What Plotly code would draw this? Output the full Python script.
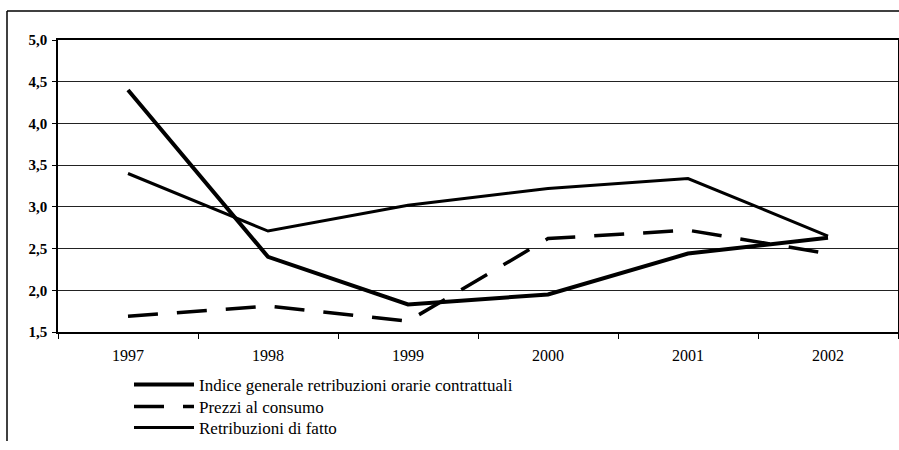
import plotly.graph_objects as go

years = ["1997", "1998", "1999", "2000", "2001", "2002"]
indice = [4.40, 2.40, 1.83, 1.95, 2.44, 2.63]
prezzi = [1.69, 1.81, 1.63, 2.62, 2.72, 2.44]
retribuzioni = [3.40, 2.71, 3.02, 3.22, 3.34, 2.65]
names = ["Indice generale retribuzioni orarie contrattuali",
         "Prezzi al consumo",
         "Retribuzioni di fatto"]
y_ticks = [1.5, 2.0, 2.5, 3.0, 3.5, 4.0, 4.5, 5.0]

SERIF = "Liberation Serif"

fig = go.Figure()
fig.add_trace(go.Scatter(x=years, y=indice, mode="lines", name=names[0],
                         legend="legend",
                         line=dict(color="black", width=4)))
fig.add_trace(go.Scatter(x=years, y=prezzi, mode="lines", name=names[1],
                         legend="legend2",
                         line=dict(color="black", width=3.5, dash="30px,19px")))
fig.add_trace(go.Scatter(x=years, y=retribuzioni, mode="lines", name=names[2],
                         legend="legend3",
                         line=dict(color="black", width=3)))

W, H = 899, 450
L, R, T, B = 58, 1, 40, 118
pw = W - L - R
ph = H - T - B

def px(x):
    return (x - L) / pw

def py(y):
    return (H - B - y) / ph

def leg(ycenter):
    return dict(x=px(129), y=py(ycenter), xanchor="left", yanchor="middle",
                font=dict(family=SERIF, size=17, color="black"),
                itemwidth=60, bgcolor="rgba(0,0,0,0)", borderwidth=0)

fig.update_layout(
    width=W, height=H,
    margin=dict(l=L, r=R, t=T, b=B, pad=0, autoexpand=False),
    paper_bgcolor="white", plot_bgcolor="white",
    separators=",.",
    font=dict(family=SERIF, color="black", size=13),
    showlegend=True,
    legend=leg(385),
    legend2=leg(407),
    legend3=leg(428),
    xaxis=dict(type="category", range=[-0.5, 5.5], tickson="boundaries",
               ticks="outside", ticklen=5,
               tickcolor="black", showline=True, linecolor="black", linewidth=1.5,
               mirror=True, showgrid=False, ticklabelstandoff=8,
               tickfont=dict(family=SERIF, size=16, color="black")),
    yaxis=dict(range=[1.5, 5.0], tickvals=y_ticks, tickformat=".1f",
               ticks="outside", ticklen=4, tickcolor="black",
               showline=True, linecolor="black", linewidth=1.5, mirror=True,
               showgrid=True, gridcolor="#222222", gridwidth=1, zeroline=False,
               ticklabelstandoff=2,
               tickfont=dict(family=SERIF, size=15, color="black", weight="bold")),
    shapes=[
        dict(type="line", xref="paper", yref="paper", x0=px(7), x1=px(899),
             y0=py(11), y1=py(11), line=dict(color="black", width=1.5)),
        dict(type="line", xref="paper", yref="paper", x0=px(7), x1=px(7),
             y0=py(11), y1=py(441), line=dict(color="black", width=1.5)),
    ],
)
fig.write_html("out.html", config={"displayModeBar": False},
               post_script="document.body.style.margin='0';")
